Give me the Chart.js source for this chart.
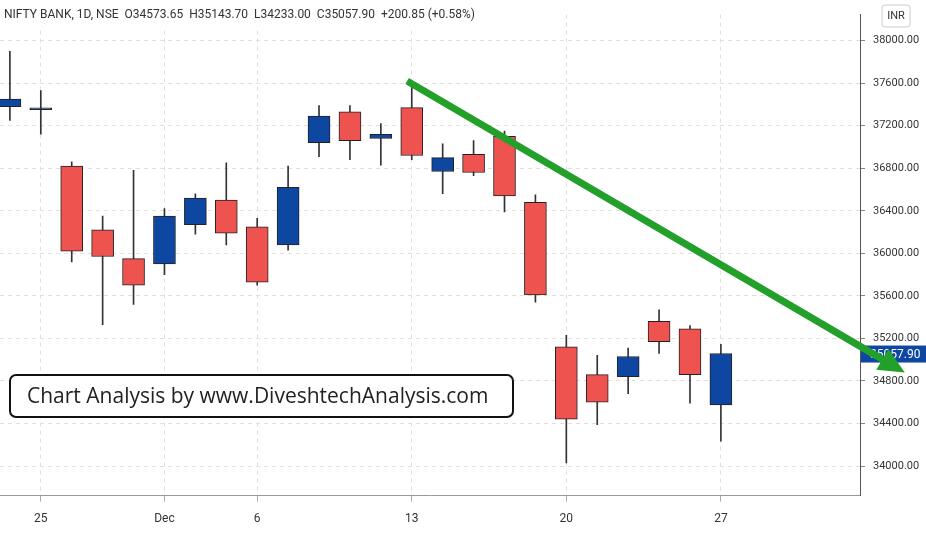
<!DOCTYPE html>
<html><head><meta charset="utf-8">
<script src="https://cdn.jsdelivr.net/npm/chart.js@4"></script>
<style>body{margin:0;background:#fff}#w{position:relative;width:926px;height:536px}</style>
</head><body><div id="w"><canvas id="c" width="926" height="536"></canvas></div>
<script>
const opens  = [37380,37350,36820,36220,35950,35900,36270,36500,36250,36080,37040,37330,37080,37370,36770,36930,37100,36480,35120,34860,34840,35360,35290,34573.65];
const closes = [37450,37360,36020,35970,35700,36350,36520,36190,35730,36620,37290,37060,37120,36920,36900,36760,36540,35610,34440,34600,35030,35170,34860,35057.90];
const highs  = [37900,37530,36860,36350,36780,36420,36560,36850,36330,36820,37390,37390,37220,37560,37030,37060,37150,36550,35230,35040,35110,35470,35320,35143.70];
const lows   = [37250,37120,35920,35330,35520,35800,36180,36080,35700,36030,36910,36880,36830,36880,36560,36730,36390,35540,34030,34390,34680,35060,34590,34233.00];
const tickIdx = [1,5,8,13,18,23];
const tickLabels = ['25','Dec','6','13','20','27'];
const UP='#0d47a1', DN='#ef5350';
const idx = opens.map((_,i)=>i);
const col = idx.map(i=>closes[i]>=opens[i]?UP:DN);
const extras={id:'extras',afterDraw(ch){
  const g=ch.ctx,x=ch.scales.x,y=ch.scales.y;
  g.save();
  // price label
  const py=y.getPixelForValue(closes[closes.length-1]);
  g.fillStyle=UP;g.fillRect(861,py-8,65,17);
  g.fillStyle='#fff';g.font='12px Roboto';g.textBaseline='middle';g.textAlign='left';
  g.fillText(closes[closes.length-1].toFixed(2),870,py+1);
  // arrow
  const x1=x.getPixelForValue(12.85),y1=y.getPixelForValue(37620);
  const x2=x.getPixelForValue(28.95),y2=y.getPixelForValue(34880);
  g.strokeStyle='#22a02a';g.lineWidth=7;g.lineCap='butt';
  const a=Math.atan2(y2-y1,x2-x1);
  g.beginPath();g.moveTo(x1,y1);g.lineTo(x2-18*Math.cos(a),y2-18*Math.sin(a));g.stroke();
  g.fillStyle='#22a02a';g.beginPath();g.moveTo(x2,y2);
  g.lineTo(x2-26*Math.cos(a)+12*Math.sin(a),y2-26*Math.sin(a)-12*Math.cos(a));
  g.lineTo(x2-26*Math.cos(a)-12*Math.sin(a),y2-26*Math.sin(a)+12*Math.cos(a));g.closePath();g.fill();
  // text box
  g.fillStyle='#fff';g.strokeStyle='#111';g.lineWidth=2;
  g.beginPath();g.roundRect(10,375,503,42,6);g.fill();g.stroke();
  g.fillStyle='#222';g.font='21px "Open Sans"';g.textAlign='left';g.textBaseline='middle';
  g.fillText('Chart Analysis by www.DiveshtechAnalysis.com',27,397);
  // title
  g.fillStyle='#fff';g.fillRect(0,0,480,28);
  g.fillStyle='#333';g.font='12px Roboto';g.textBaseline='middle';
  g.fillText('NIFTY BANK, 1D, NSE  O34573.65  H35143.70  L34233.00  C35057.90  +200.85 (+0.58%)',4,15);
  // INR
  g.strokeStyle='#ccc';g.lineWidth=1;g.beginPath();g.roundRect(882,5,28,22,3);g.stroke();
  g.fillStyle='#333';g.font='11px Roboto';g.textAlign='center';g.fillText('INR',896,16);
  g.restore();
}};
new Chart(document.getElementById('c'),{
  type:'bar',
  data:{datasets:[
    {data:idx.map(i=>({x:i,y:[lows[i],highs[i]]})),backgroundColor:'#333',barThickness:1,grouped:false,order:2},
    {data:idx.map(i=>({x:i,y:[Math.min(opens[i],closes[i]),Math.max(opens[i],closes[i])]})),backgroundColor:col,borderColor:'#222',borderWidth:1,borderSkipped:false,barThickness:22,grouped:false,order:1,minBarLength:2}
  ]},
  options:{responsive:false,animation:false,
    plugins:{legend:{display:false},tooltip:{enabled:false}},
    scales:{
      x:{type:'linear',min:-0.32,max:27.5,offset:false,
        afterBuildTicks(s){s.ticks=tickIdx.map(v=>({value:v}));},
        ticks:{autoSkip:false,maxRotation:0,color:'#333',font:{family:'Roboto',size:12},padding:10,callback:(v)=>tickLabels[tickIdx.indexOf(v)]},
        grid:{offset:false,color:'#e0e0e0',tickLength:6,tickColor:'#aaa'},border:{dash:[4,4],color:'#999',display:true}},
      y:{position:'right',min:33722,max:38245,
        afterBuildTicks(s){const t=[];for(let v=34000;v<=38000;v+=400)t.push({value:v});s.ticks=t;},
        afterFit(s){s.width=66;},
        ticks:{color:'#333',font:{family:'Roboto',size:11},padding:8,callback:v=>v.toFixed(2)},
        grid:{color:'#e0e0e0',tickLength:5,tickColor:'#888'},border:{color:'#555',dash:[4,4]}}
    }},
  plugins:[extras]
});
</script></body></html>
